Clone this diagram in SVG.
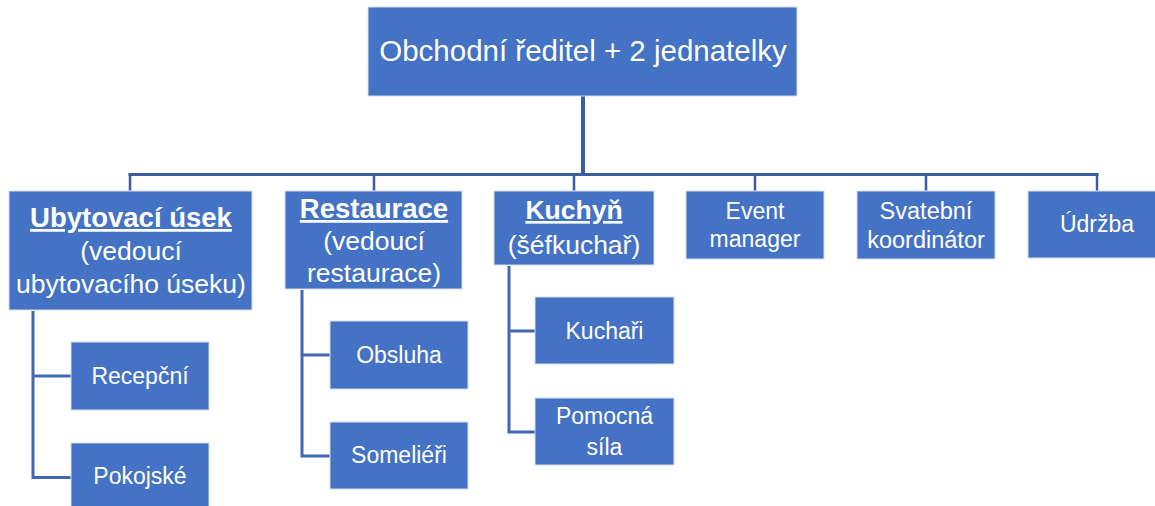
<svg xmlns="http://www.w3.org/2000/svg" width="1155" height="506" viewBox="0 0 1155 506">
<style>
.box{fill:#4472C4;stroke:#D5DEEF;stroke-width:1}
.t{font-family:"Liberation Sans",Arial,sans-serif;fill:#FFFFFF;text-anchor:middle}
.s23{font-size:23px}
.s26{font-size:26.5px}
.b{font-weight:bold;font-size:27.5px;text-decoration:underline}
.main{stroke:#3A5DA2;fill:none}
.sub{stroke:#4169B3;fill:none;stroke-width:3}
</style>
<rect width="1155" height="506" fill="#FFFFFF"/>
<g id="connectors">
<line class="main" x1="583" y1="96" x2="583" y2="175" stroke-width="4"/>
<line class="main" x1="128.5" y1="174.5" x2="1098.5" y2="174.5" stroke-width="3"/>
<line class="main" x1="130" y1="174" x2="130" y2="191" stroke-width="2.5"/>
<line class="main" x1="374" y1="174" x2="374" y2="191" stroke-width="2.5"/>
<line class="main" x1="574" y1="174" x2="574" y2="191" stroke-width="2.5"/>
<line class="main" x1="755" y1="174" x2="755" y2="191" stroke-width="2.5"/>
<line class="main" x1="926" y1="174" x2="926" y2="191" stroke-width="2.5"/>
<line class="main" x1="1097" y1="174" x2="1097" y2="191" stroke-width="2.5"/>
<polyline class="sub" points="71,376 33,376 33,311 33,477.5 71,477.5"/>
<polyline class="sub" points="330,355 302,355 302,290 302,456 330,456"/>
<polyline class="sub" points="535,331 509,331 509,266 509,432 535,432"/>
</g>
<g id="n-top">
<rect class="box" x="368" y="7" width="429" height="89"/>
<text class="t" x="583" y="61" font-size="29.5px">Obchodní ředitel + 2 jednatelky</text>
</g>
<g id="n-ubytovaci">
<rect class="box" x="9" y="191" width="243" height="119"/>
<text class="t b" x="131" y="227">Ubytovací úsek</text>
<text class="t s26" x="131" y="260">(vedoucí</text>
<text class="t s26" x="131" y="293">ubytovacího úseku)</text>
</g>
<g id="n-restaurace">
<rect class="box" x="285" y="191" width="177" height="98"/>
<text class="t b" x="374" y="218">Restaurace</text>
<text class="t s26" x="374" y="250">(vedoucí</text>
<text class="t s26" x="374" y="282">restaurace)</text>
</g>
<g id="n-kuchyn">
<rect class="box" x="494" y="191" width="160" height="74"/>
<text class="t b" x="574" y="219" style="font-size:26.5px">Kuchyň</text>
<text class="t s26" x="574" y="254">(šéfkuchař)</text>
</g>
<g id="n-event">
<rect class="box" x="686" y="191" width="138" height="68"/>
<text class="t s23" x="755" y="219">Event</text>
<text class="t s23" x="755" y="247">manager</text>
</g>
<g id="n-svatebni">
<rect class="box" x="857" y="191" width="138" height="68"/>
<text class="t" x="926" y="219" font-size="23.5px">Svatební</text>
<text class="t" x="926" y="248" font-size="23.5px">koordinátor</text>
</g>
<g id="n-udrzba">
<rect class="box" x="1028" y="191" width="138" height="67"/>
<text class="t s23" x="1097" y="232">Údržba</text>
</g>
<g id="n-recepcni">
<rect class="box" x="71" y="342" width="138" height="68"/>
<text class="t s23" x="140" y="384">Recepční</text>
</g>
<g id="n-pokojske">
<rect class="box" x="71" y="443" width="138" height="68"/>
<text class="t s23" x="140" y="484">Pokojské</text>
</g>
<g id="n-obsluha">
<rect class="box" x="330" y="321" width="138" height="68"/>
<text class="t s23" x="399" y="363">Obsluha</text>
</g>
<g id="n-somelieri">
<rect class="box" x="330" y="422" width="138" height="67"/>
<text class="t s23" x="399" y="463">Someliéři</text>
</g>
<g id="n-kuchari">
<rect class="box" x="535" y="297" width="139" height="67"/>
<text class="t s23" x="604.5" y="339">Kuchaři</text>
</g>
<g id="n-pomocna">
<rect class="box" x="535" y="398" width="139" height="67"/>
<text class="t s23" x="604.5" y="424">Pomocná</text>
<text class="t s23" x="604.5" y="455">síla</text>
</g>
</svg>
